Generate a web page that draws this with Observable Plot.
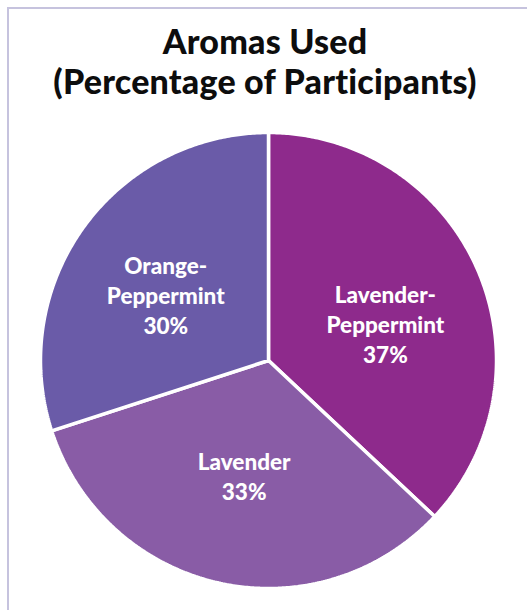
<!DOCTYPE html>
<html><head><meta charset="utf-8">
<script src="https://cdn.jsdelivr.net/npm/d3@7"></script>
<script src="https://cdn.jsdelivr.net/npm/@observablehq/plot@0.6"></script>
<style>
body{margin:0;background:#fff;width:527px;height:610px;overflow:hidden;position:relative;font-family:Lato,"Open Sans",sans-serif}
#frame{position:absolute;left:7px;top:7px;width:540px;height:620px;border-left:2px solid #c6c3de;border-top:2px solid #c6c3de;}
#title{position:absolute;left:0;top:21px;width:530px;text-align:center;font-weight:900;font-size:34px;line-height:40px;letter-spacing:0.2px;color:#0d0d0d}
#chart{position:absolute;left:0;top:110px}
</style></head><body>
<div id="frame"></div>
<div id="title"><div>Aromas Used</div><div>(Percentage of Participants)</div></div>
<div id="chart"></div>
<script>
// Data
const aromas = ["Lavender-Peppermint", "Lavender", "Orange-Peppermint"];
const labelText = ["Lavender-\nPeppermint", "Lavender", "Orange-\nPeppermint"];
const percents = [37, 33, 30];
const colors = ["#8e2a8c", "#895ca6", "#6a5ba8"];

const rows = aromas.map((a, i) => ({aroma: a, label: labelText[i], pct: percents[i]}));
const arcs = d3.pie().sort(null).value(d => d.pct)(rows);

// polygon points in unit-circle data space
const pts = [];
for (const arc of arcs) {
  const n = Math.max(2, Math.ceil((arc.endAngle - arc.startAngle) / (Math.PI / 360)));
  pts.push({aroma: arc.data.aroma, x: 0, y: 0});
  for (let k = 0; k <= n; k++) {
    const a = arc.startAngle + (arc.endAngle - arc.startAngle) * k / n;
    pts.push({aroma: arc.data.aroma, x: Math.sin(a), y: Math.cos(a)});
  }
  pts.push({aroma: arc.data.aroma, x: 0, y: 0});
}
const lr = 0.53;
const labels = arcs.map(arc => {
  const m = (arc.startAngle + arc.endAngle) / 2;
  return {aroma: arc.data.aroma, text: arc.data.label + "\n" + arc.data.pct + "%", x: lr * Math.sin(m), y: lr * Math.cos(m)};
});
const nudge = {"Lavender-Peppermint": [6, 11], "Lavender": [2, -3], "Orange-Peppermint": [-5, 5]};

const textOpts = {x: "x", y: "y", text: "text", fill: "white", fontSize: 22.5, fontWeight: 900, fontFamily: "Lato", lineHeight: 1.33, textAnchor: "middle", lineAnchor: "middle"};
const cx = 268, cy = 250, R = 228;
const chart = Plot.plot({
  width: 527, height: 500,
  margin: 0,
  x: {domain: [-1, 1], range: [cx - R, cx + R], axis: null},
  y: {domain: [-1, 1], range: [cy + R, cy - R], axis: null},
  color: {domain: aromas, range: colors},
  marks: [
    Plot.line(pts, {x: "x", y: "y", z: "aroma", fill: "aroma", stroke: "white", strokeWidth: 3.5, strokeLinejoin: "miter"}),
    ...aromas.map(a => Plot.text(labels.filter(d => d.aroma === a), {...textOpts, dx: nudge[a][0], dy: nudge[a][1]}))
  ]
});
document.getElementById("chart").appendChild(chart);
</script>
</body></html>
